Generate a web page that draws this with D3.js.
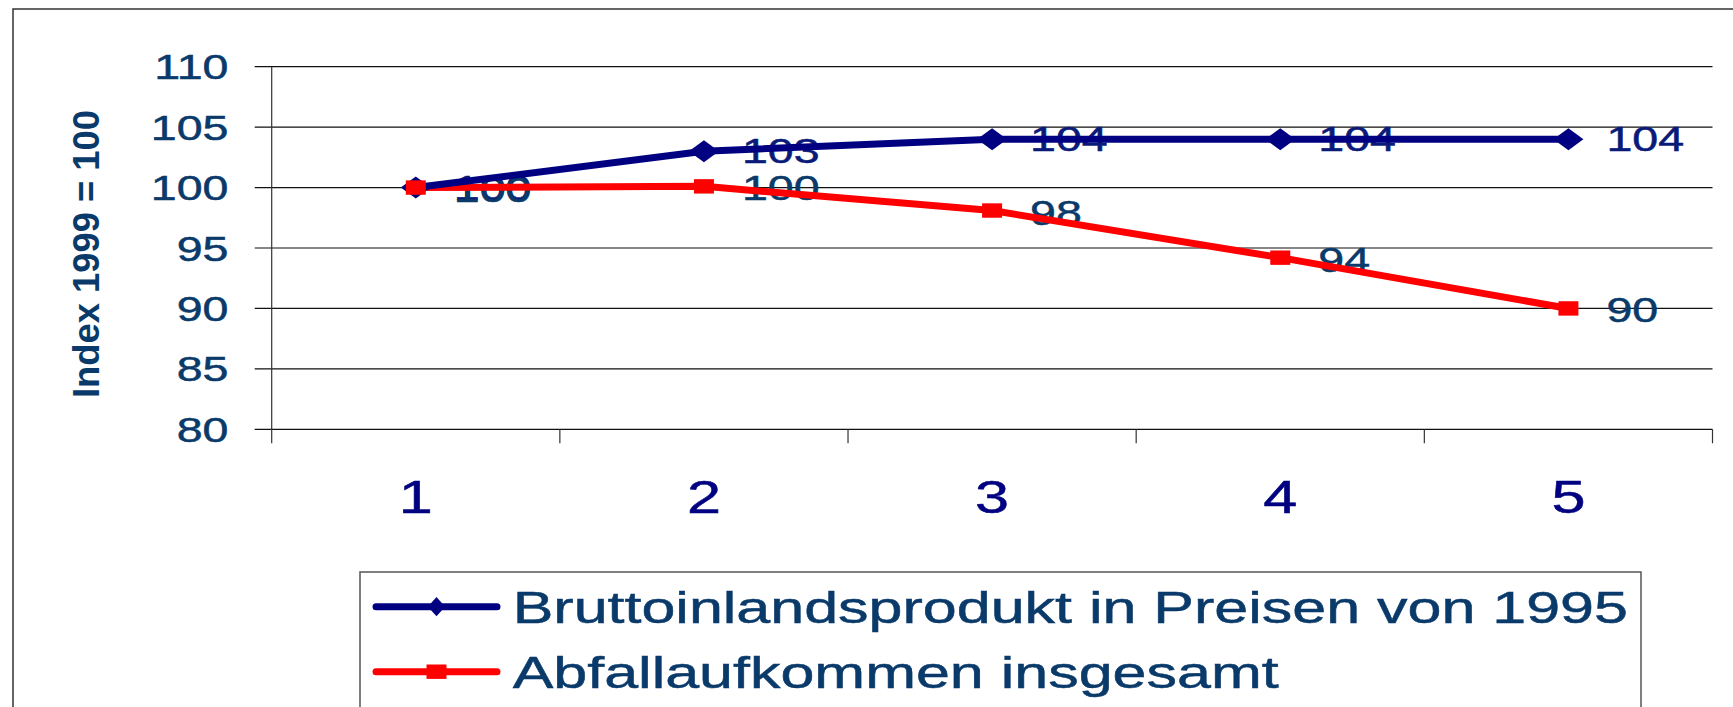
<!DOCTYPE html>
<html>
<head>
<meta charset="utf-8">
<script src="https://cdn.jsdelivr.net/npm/d3@7"></script>
<style>
  html, body { margin: 0; padding: 0; background: #fff; }
  svg { display: block; }
  text { font-family: "Liberation Sans", Arial, sans-serif; }
</style>
</head>
<body>
<div id="chart"></div>
<script>
const categories = [1, 2, 3, 4, 5];
const bipValues = [100, 103, 104, 104, 104];
const abfallValues = [100, 100.1, 98.1, 94.2, 90];
const yTicks = [80, 85, 90, 95, 100, 105, 110];
const seriesNames = ["Bruttoinlandsprodukt in Preisen von 1995", "Abfallaufkommen insgesamt"];
const yTitle = "Index 1999 = 100";

const width = 1733;
const height = 707;
const STRETCH = 1.33; // the original text is drawn horizontally widened

const svg = d3.select("#chart").append("svg")
  .attr("width", width)
  .attr("height", height);

// outer frame, runs off the right and bottom edges
svg.append("rect")
  .attr("x", 13).attr("y", 9)
  .attr("width", width).attr("height", height)
  .attr("fill", "none")
  .attr("stroke", "#333")
  .attr("stroke-width", 1.5);

const x = d3.scaleBand().domain(categories).range([271.7, 1712.5]).padding(0);
const y = d3.scaleLinear().domain([80, 110]).range([429.3, 66.7]);
const cx = d => x(d) + x.bandwidth() / 2;

function widen(sel, k) {
  sel.each(function () {
    const w = this.getComputedTextLength();
    d3.select(this).attr("textLength", w * k).attr("lengthAdjust", "spacingAndGlyphs");
  });
}

// gridlines + y ticks
svg.append("g")
  .selectAll("line")
  .data(yTicks)
  .join("line")
  .attr("x1", x.range()[0] - 17)
  .attr("x2", x.range()[1])
  .attr("y1", d => y(d)).attr("y2", d => y(d))
  .attr("stroke", "#111")
  .attr("stroke-width", 1.2);

// y axis line
svg.append("line")
  .attr("x1", x.range()[0]).attr("x2", x.range()[0])
  .attr("y1", y(110)).attr("y2", y(80) + 14)
  .attr("stroke", "#333").attr("stroke-width", 1.2);

// x ticks at category boundaries
const bounds = categories.map(d => x(d) + x.bandwidth());
svg.append("g")
  .selectAll("line")
  .data(bounds)
  .join("line")
  .attr("x1", d => d).attr("x2", d => d)
  .attr("y1", y(80)).attr("y2", y(80) + 14)
  .attr("stroke", "#333").attr("stroke-width", 1.2);

// y tick labels
svg.append("g")
  .selectAll("text")
  .data(yTicks)
  .join("text")
  .attr("x", 228.5)
  .attr("y", d => y(d) + 12.5)
  .attr("text-anchor", "end")
  .attr("font-size", "35px")
  .attr("fill", "#0a3a6a")
  .attr("stroke", "#0a3a6a")
  .attr("stroke-width", 0.5)
  .text(d => d)
  .call(widen, STRETCH);

// x tick labels
svg.append("g")
  .selectAll("text")
  .data(categories)
  .join("text")
  .attr("x", d => cx(d))
  .attr("y", 513)
  .attr("text-anchor", "middle")
  .attr("font-size", "46px")
  .attr("fill", "#000080")
  .attr("stroke", "#000080")
  .attr("stroke-width", 0.5)
  .text(d => d)
  .call(widen, STRETCH);

// y axis title
svg.append("text")
  .attr("transform", "translate(99,254) rotate(-90)")
  .attr("text-anchor", "middle")
  .attr("font-size", "37px")
  .attr("font-weight", "bold")
  .attr("fill", "#0a3a6a")
  .attr("textLength", 288)
  .attr("lengthAdjust", "spacingAndGlyphs")
  .text(yTitle);

const fmt = d3.format(".0f");

const series = [
  { name: seriesNames[0], values: bipValues, color: "#000080", labelColor: "#0a1a78", shape: "diamond", dy: 12 },
  { name: seriesNames[1], values: abfallValues, color: "#ff0000", labelColor: "#0a3a6a", shape: "square", dy: 14 }
];

// data labels (drawn below the lines, as in the original)
series.forEach(s => {
  svg.append("g")
    .selectAll("text")
    .data(categories)
    .join("text")
    .attr("x", d => cx(d) + 38)
    .attr("y", (d, i) => y(s.values[i]) + s.dy)
    .attr("font-size", "35px")
    .attr("fill", s.labelColor)
    .attr("stroke", s.labelColor)
    .attr("stroke-width", 0.5)
    .text((d, i) => fmt(s.values[i]))
    .call(widen, STRETCH);
});

const diamondType = {
  draw(ctx, size) {
    const r = Math.sqrt(size) * 0.62625;
    ctx.moveTo(0, -r); ctx.lineTo(r, 0); ctx.lineTo(0, r); ctx.lineTo(-r, 0); ctx.closePath();
  }
};
const markerPath = {
  diamond: d3.symbol(diamondType, 367)(),
  square: d3.symbol(d3.symbolSquare, 400)()
};
const markerScale = { diamond: "scale(1.25,0.92)", square: "scale(1,0.72)" };

const line = d3.line().x(d => cx(d.c)).y(d => y(d.v));

// draw red first, blue on top
series.slice().reverse().forEach(s => {
  const pts = categories.map((c, i) => ({ c: c, v: s.values[i] }));
  svg.append("path")
    .datum(pts)
    .attr("d", line)
    .attr("fill", "none")
    .attr("stroke", s.color)
    .attr("stroke-width", 7)
    .attr("stroke-linejoin", "round");
});
series.forEach(s => {
  const pts = categories.map((c, i) => ({ c: c, v: s.values[i] }));
  svg.append("g")
    .selectAll("path")
    .data(pts)
    .join("path")
    .attr("d", markerPath[s.shape])
    .attr("transform", d => `translate(${cx(d.c)},${y(d.v)}) ${markerScale[s.shape]}`)
    .attr("fill", s.color);
});

// LEGEND
const legend = svg.append("g");
legend.append("rect")
  .attr("x", 360).attr("y", 572)
  .attr("width", 1641 - 360).attr("height", 200)
  .attr("fill", "#fff")
  .attr("stroke", "#555")
  .attr("stroke-width", 1.5);

const rowY = [606.7, 671.7];
series.forEach((s, i) => {
  const g = legend.append("g").attr("transform", `translate(0,${rowY[i]})`);
  g.append("line")
    .attr("x1", 376).attr("x2", 497)
    .attr("y1", 0).attr("y2", 0)
    .attr("stroke", s.color)
    .attr("stroke-width", 7)
    .attr("stroke-linecap", "round");
  g.append("path")
    .attr("d", markerPath[s.shape])
    .attr("transform", s.shape === "diamond" ? "translate(436.5,0) scale(0.72,0.8)" : "translate(436.5,0) scale(1,0.72)")
    .attr("fill", s.color);
  g.append("text")
    .attr("x", 512.7)
    .attr("y", 16)
    .attr("font-size", "45px")
    .attr("fill", "#0a3a6a")
    .attr("stroke", "#0a3a6a")
    .attr("stroke-width", 0.5)
    .text(s.name)
    .call(widen, 1.355);
});
</script>
</body>
</html>
